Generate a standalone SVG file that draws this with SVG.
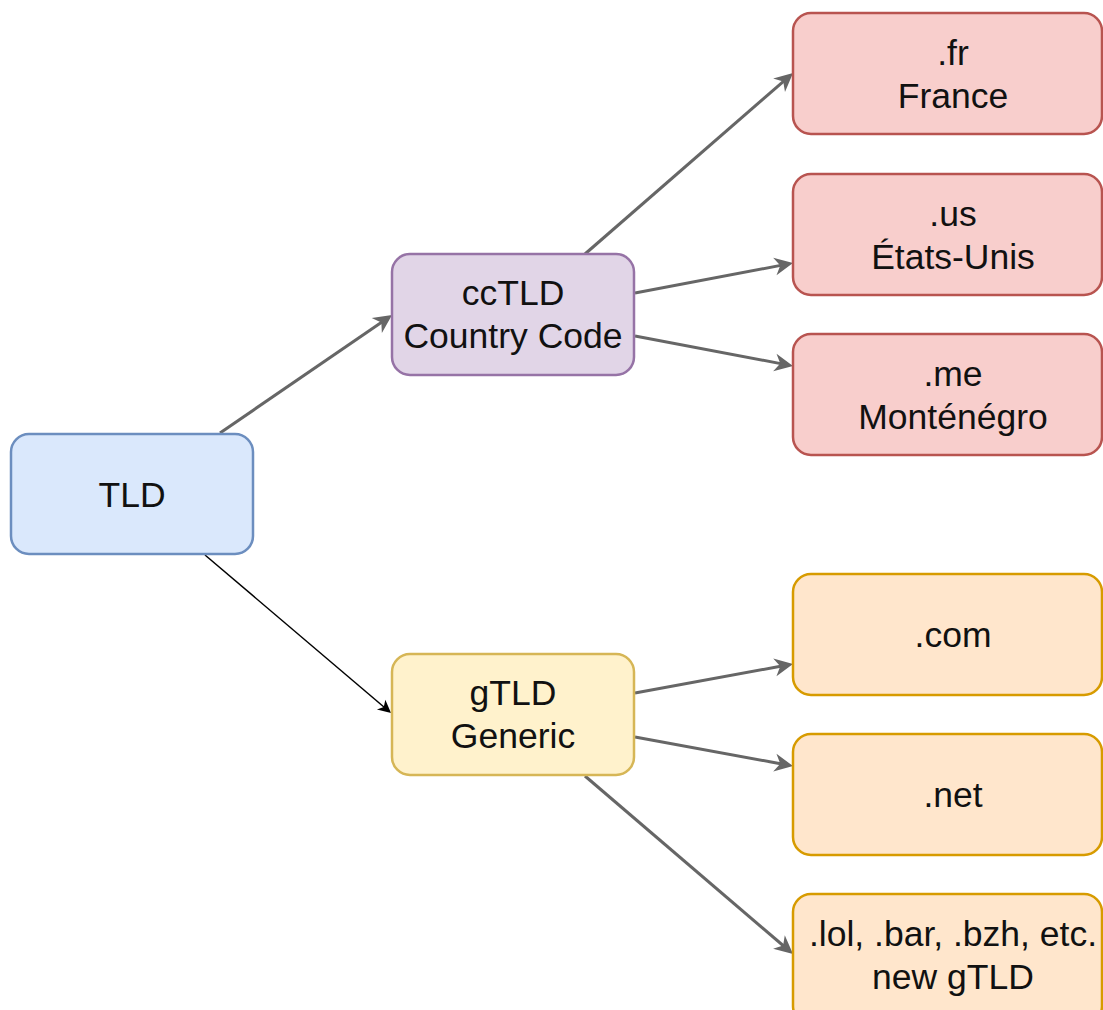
<svg xmlns="http://www.w3.org/2000/svg" width="1103" height="1010" viewBox="0 0 1103 1010">
<style>
  .box { stroke-width: 2.5; }
  .blue { fill: #dae8fc; stroke: #6c8ebf; }
  .purple { fill: #e1d5e7; stroke: #9673a6; }
  .yellow { fill: #fff2cc; stroke: #d6b656; }
  .red { fill: #f8cecc; stroke: #b85450; }
  .orange { fill: #ffe6cc; stroke: #d79b00; }
  text { font-family: "Liberation Sans", Arial, sans-serif; font-size: 35.5px; fill: #111111; text-anchor: middle; }
  .edge { fill: none; stroke: #666666; stroke-width: 3; marker-end: url(#ag); }
  .edge-black { fill: none; stroke: #000000; stroke-width: 1.5; marker-end: url(#ab); }
</style>
<defs>
  <marker id="ag" markerUnits="userSpaceOnUse" viewBox="-10 -10 21 20" markerWidth="21" markerHeight="20" refX="0" refY="0" orient="auto" overflow="visible">
    <path d="M-8.5,-9 L10,0 L-8.5,9 L-3,0 Z" fill="#666666"/>
  </marker>
  <marker id="ab" markerUnits="userSpaceOnUse" viewBox="-7 -7 15 14" markerWidth="15" markerHeight="14" refX="0" refY="0" orient="auto" overflow="visible">
    <path d="M-6,-6.5 L7,0 L-6,6.5 L-2.5,0 Z" fill="#000000"/>
  </marker>
</defs>
<rect width="1103" height="1010" fill="#ffffff"/>
<g id="connectors">
  <line class="edge" x1="220" y1="433" x2="383.8" y2="320.7"/>
  <line class="edge-black" x1="205" y1="555" x2="385.7" y2="708.5"/>
  <line class="edge" x1="585" y1="254" x2="785.5" y2="79.6"/>
  <line class="edge" x1="635" y1="293" x2="783.2" y2="264.9"/>
  <line class="edge" x1="635" y1="336" x2="783.2" y2="364.1"/>
  <line class="edge" x1="635" y1="693" x2="783.2" y2="665.8"/>
  <line class="edge" x1="635" y1="737" x2="783.2" y2="764.2"/>
  <line class="edge" x1="585" y1="776" x2="785.4" y2="947.5"/>
</g>
<g id="tld">
  <rect class="box blue" x="11" y="434" width="242" height="120" rx="18"/>
  <text x="132" y="507">TLD</text>
</g>
<g id="cctld">
  <rect class="box purple" x="392" y="254" width="242" height="121" rx="18"/>
  <text x="513" y="305">ccTLD</text>
  <text x="513" y="348">Country Code</text>
</g>
<g id="gtld">
  <rect class="box yellow" x="392" y="654" width="242" height="121" rx="18"/>
  <text x="513" y="705">gTLD</text>
  <text x="513" y="748">Generic</text>
</g>
<g id="fr">
  <rect class="box red" x="793" y="13" width="309" height="121" rx="18"/>
  <text x="953" y="65">.fr</text>
  <text x="953" y="108">France</text>
</g>
<g id="us">
  <rect class="box red" x="793" y="174" width="309" height="121" rx="18"/>
  <text x="953" y="226">.us</text>
  <text x="953" y="269">États-Unis</text>
</g>
<g id="me">
  <rect class="box red" x="793" y="334" width="309" height="121" rx="18"/>
  <text x="953" y="386">.me</text>
  <text x="953" y="429">Monténégro</text>
</g>
<g id="com">
  <rect class="box orange" x="793" y="574" width="309" height="121" rx="18"/>
  <text x="953" y="647">.com</text>
</g>
<g id="net">
  <rect class="box orange" x="793" y="734" width="309" height="121" rx="18"/>
  <text x="953" y="807">.net</text>
</g>
<g id="new-gtld">
  <rect class="box orange" x="793" y="894" width="309" height="130" rx="18"/>
  <text x="953" y="946">.lol, .bar, .bzh, etc.</text>
  <text x="953" y="989">new gTLD</text>
</g>
</svg>
